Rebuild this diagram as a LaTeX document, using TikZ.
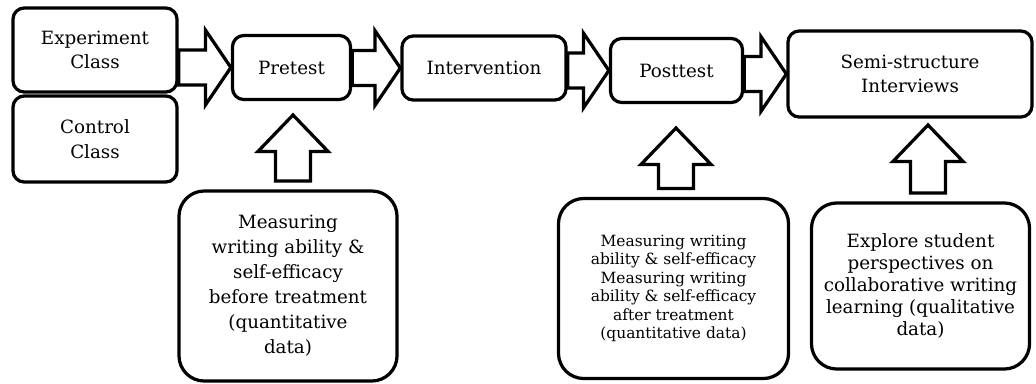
\documentclass[tikz,border=0pt]{standalone}
\usepackage{fontspec}
\setmainfont{DejaVu Serif}
\usepackage{tikz}
\usetikzlibrary{calc}

\tikzset{
  stage/.style={draw, line width=2.3pt, rounded corners=8pt, align=center,
    font=\fontsize{13}{17.5}\selectfont},
  note/.style={draw, line width=2.3pt, rounded corners=18pt, align=center},
  blockarr/.style={draw, line width=2.3pt, fill=white, line join=miter}
}

% fat arrow to the right, tip at #2
\newcommand{\hblock}[2]{\draw[blockarr] let \p1=#1, \p2=#2 in
  (\x1,\y2+12.4pt) -- (\x2-18pt,\y2+12.4pt) -- (\x2-18pt,\y2+26.5pt) -- (\x2,\y2)
  -- (\x2-18pt,\y2-26.5pt) -- (\x2-18pt,\y2-12.4pt) -- (\x1,\y2-12.4pt) -- cycle;}
% fat arrow pointing up, tip at #2
\newcommand{\vblock}[2]{\draw[blockarr] let \p1=#1, \p2=#2 in
  (\x2-12.4pt,\y1+6pt) -- (\x2-12.4pt,\y2-26pt) -- (\x2-25pt,\y2-26pt) -- (\x2,\y2)
  -- (\x2+25pt,\y2-26pt) -- (\x2+12.4pt,\y2-26pt) -- (\x2+12.4pt,\y1+6pt) -- cycle;}

\begin{document}
\begin{tikzpicture}[x=0.025cm, y=-0.025cm]
\useasboundingbox (0,0) rectangle (1036,383);

% top row
\node[stage, minimum width=4.1cm, minimum height=2.1cm] (exp) at (95,50) {Experiment\\Class};
\node[stage, minimum width=4.1cm, minimum height=2.15cm] (ctl) at (95,139) {Control\\Class};
\node[stage, minimum width=2.95cm, minimum height=1.6cm] (pre) at (291.5,67.5) {Pretest};
\node[stage, minimum width=4.1cm, minimum height=1.6cm] (int) at (484,68) {Intervention};
\node[stage, minimum width=3.3cm, minimum height=1.6cm] (post) at (676.5,70.5) {Posttest};
\node[stage, minimum width=6.1cm, minimum height=2.15cm] (semi) at (910,74) {Semi-structure\\Interviews};

% bottom row
\node[note, minimum width=5.45cm, minimum height=4.75cm,
  font=\fontsize{13}{17.8}\selectfont] (m1) at (288,286)
  {Measuring\\writing ability \&\\self-efficacy\\before treatment\\(quantitative\\data)};
\node[note, minimum width=5.75cm, minimum height=4.5cm,
  font=\fontsize{11}{13.2}\selectfont] (m2) at (673.5,288.5)
  {Measuring writing\\ability \& self-efficacy\\Measuring writing\\ability \& self-efficacy\\after treatment\\(quantitative data)};
\node[note, minimum width=5.45cm, minimum height=4.15cm,
  font=\fontsize{13}{15.6}\selectfont] (m3) at (920.5,286)
  {Explore student\\perspectives on\\collaborative writing\\learning (qualitative\\data)};

% arrows along the row
\hblock{(exp.east)}{(pre.west)}
\hblock{(pre.east)}{(int.west)}
\hblock{(int.east)}{(post.west)}
\hblock{(post.east)}{(semi.west)}

% arrows from the notes
\coordinate (u1) at (293,115);
\coordinate (u2) at (676,128);
\coordinate (u3) at (928,125);
\vblock{(m1.north)}{(u1)}
\vblock{(m2.north)}{(u2)}
\vblock{(m3.north)}{(u3)}
\end{tikzpicture}
\end{document}
